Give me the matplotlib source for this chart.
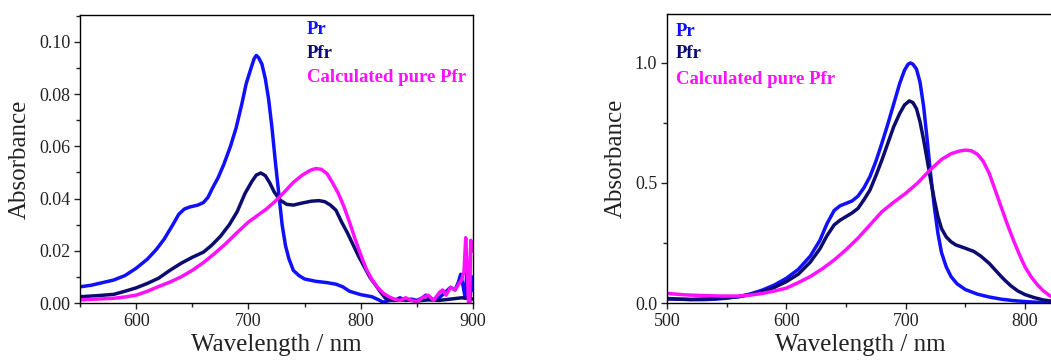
import matplotlib
matplotlib.use("Agg")
import matplotlib.pyplot as plt
from matplotlib.ticker import MultipleLocator, FormatStrFormatter

plt.rcParams['font.family'] = ['Liberation Serif', 'DejaVu Serif']

# ---------------- Left panel data ----------------
L_pr_wl = [550, 560, 570, 580, 590, 600, 610, 618, 625, 632, 638, 643, 648, 655, 660, 664, 668, 673, 678,
           684, 689, 694, 698, 702, 705, 707, 709, 712, 715, 718, 721, 724, 727, 730, 733, 736, 740, 745,
           750, 760, 770, 778, 784, 790, 800, 810, 816, 820, 826, 830, 835, 840, 845, 850, 855, 858, 862,
           866, 870, 875, 880, 884, 887, 889, 891, 893, 895, 897, 899, 900]
L_pr_a = [0.0062, 0.0068, 0.0078, 0.0088, 0.0105, 0.0133, 0.0168, 0.0205, 0.0245, 0.0295, 0.0340, 0.0360,
          0.0368, 0.0375, 0.0385, 0.0405, 0.0440, 0.0480, 0.0530, 0.0600, 0.0670, 0.0760, 0.0840, 0.0895,
          0.0935, 0.0948, 0.0940, 0.0915, 0.0860, 0.0780, 0.0670, 0.0540, 0.0420, 0.0300, 0.0220, 0.0170,
          0.0125, 0.0105, 0.0092, 0.0083, 0.0078, 0.0072, 0.0062, 0.0045, 0.0032, 0.0024, 0.0012, 0.0003,
          0.0010, 0.0010, 0.0020, 0.0010, 0.0015, 0.0010, 0.0020, 0.0030, 0.0020, 0.0010, 0.0020, 0.0040,
          0.0060, 0.0050, 0.0080, 0.0110, 0.0070, 0.0020, 0.0150, 0.0000, 0.0100, 0.0050]

L_pfr_wl = [550, 565, 580, 590, 600, 610, 620, 630, 640, 650, 660, 667, 675, 683, 690, 697, 703, 707, 711,
            715, 719, 723, 728, 734, 740, 748, 756, 763, 768, 773, 778, 783, 788, 793, 798, 803, 808, 813,
            818, 822, 830, 840, 850, 860, 870, 880, 890, 900]
L_pfr_a = [0.0024, 0.0028, 0.0033, 0.0045, 0.0058, 0.0075, 0.0095, 0.0125, 0.0152, 0.0175, 0.0195, 0.0220,
           0.0255, 0.0300, 0.0350, 0.0420, 0.0465, 0.0490, 0.0498, 0.0488, 0.0460, 0.0425, 0.0395, 0.0378,
           0.0375, 0.0383, 0.0390, 0.0392, 0.0388, 0.0375, 0.0355, 0.0310, 0.0270, 0.0225, 0.0180, 0.0140,
           0.0100, 0.0070, 0.0040, 0.0018, 0.0010, 0.0012, 0.0008, 0.0012, 0.0010, 0.0015, 0.0020, 0.0015]

L_calc_wl = [550, 565, 580, 590, 600, 610, 620, 630, 640, 650, 660, 670, 680, 690, 700, 708, 716, 724, 732,
             740, 748, 755, 760, 765, 770, 775, 780, 785, 790, 795, 800, 805, 810, 815, 820, 825, 830, 835,
             840, 845, 850, 855, 860, 865, 870, 873, 876, 880, 884, 887, 890, 892, 893.5, 895, 896, 897,
             898, 899.5]
L_calc_a = [0.0012, 0.0015, 0.0018, 0.0023, 0.0030, 0.0045, 0.0063, 0.0080, 0.0100, 0.0125, 0.0155, 0.0190,
            0.0228, 0.0270, 0.0310, 0.0335, 0.0360, 0.0390, 0.0425, 0.0462, 0.0490, 0.0508, 0.0515, 0.0512,
            0.0495, 0.0460, 0.0420, 0.0370, 0.0310, 0.0245, 0.0185, 0.0130, 0.0090, 0.0060, 0.0038, 0.0024,
            0.0015, 0.0010, 0.0020, 0.0010, 0.0005, 0.0020, 0.0030, 0.0010, 0.0040, 0.0050, 0.0030, 0.0060,
            0.0050, 0.0070, 0.0090, 0.0120, 0.0250, 0.0120, 0.0000, 0.0000, 0.0240, 0.0200]

# ---------------- Right panel data ----------------
R_pr_wl = [500, 510, 520, 530, 540, 550, 560, 570, 580, 590, 600, 610, 620, 628, 634, 640, 645, 650, 655,
           660, 665, 670, 675, 680, 685, 690, 695, 699, 702, 704, 706, 709, 712, 715, 718, 721, 724, 727,
           730, 734, 738, 743, 750, 760, 770, 780, 790, 800, 810, 823]
R_pr_a = [0.019, 0.016, 0.014, 0.014, 0.016, 0.020, 0.027, 0.038, 0.054, 0.075, 0.103, 0.140, 0.195, 0.260,
          0.330, 0.385, 0.405, 0.415, 0.425, 0.445, 0.480, 0.526, 0.590, 0.665, 0.745, 0.830, 0.915, 0.970,
          0.995, 1.000, 0.995, 0.975, 0.920, 0.820, 0.680, 0.530, 0.400, 0.290, 0.210, 0.150, 0.110, 0.080,
          0.056, 0.037, 0.025, 0.016, 0.010, 0.006, 0.003, 0.001]

R_pfr_wl = [500, 520, 540, 560, 570, 580, 590, 600, 610, 620, 628, 634, 640, 645, 650, 655, 660, 665, 670,
            675, 680, 685, 690, 695, 699, 703, 706, 709, 712, 715, 718, 721, 724, 727, 730, 734, 738, 742,
            750, 757, 763, 770, 776, 782, 788, 794, 800, 808, 815, 823]
R_pfr_a = [0.017, 0.015, 0.018, 0.026, 0.035, 0.047, 0.065, 0.089, 0.120, 0.170, 0.225, 0.280, 0.325, 0.345,
           0.360, 0.375, 0.394, 0.430, 0.470, 0.530, 0.595, 0.665, 0.735, 0.790, 0.825, 0.842, 0.835, 0.810,
           0.755, 0.680, 0.596, 0.510, 0.430, 0.360, 0.310, 0.275, 0.255, 0.242, 0.228, 0.215, 0.195, 0.165,
           0.132, 0.100, 0.072, 0.050, 0.035, 0.022, 0.013, 0.007]

R_calc_wl = [500, 515, 530, 545, 560, 570, 580, 590, 600, 610, 620, 630, 640, 650, 660, 670, 680, 690, 700,
             710, 720, 730, 738, 745, 750, 755, 760, 765, 770, 775, 780, 785, 790, 795, 800, 805, 810, 815,
             820, 823]
R_calc_a = [0.040, 0.034, 0.031, 0.029, 0.029, 0.033, 0.040, 0.050, 0.062, 0.085, 0.110, 0.142, 0.179, 0.222,
            0.270, 0.325, 0.380, 0.420, 0.457, 0.500, 0.552, 0.598, 0.622, 0.633, 0.637, 0.634, 0.620, 0.590,
            0.540, 0.470, 0.400, 0.330, 0.265, 0.205, 0.150, 0.110, 0.078, 0.052, 0.033, 0.022]

labels = ["Pr", "Pfr", "Calculated pure Pfr"]
colors = ["#1010ff", "#0c0c70", "#ff10ff"]

fig = plt.figure(figsize=(10.51, 3.61), dpi=100)

axL = fig.add_axes([80/1051, 1-303/361, (473-80)/1051, (303-15)/361])
axR = fig.add_axes([667/1051, 1-303/361, (1051-667)/1051 + 0.002, (303-14)/361])

for wl, a, c in zip([L_pr_wl, L_pfr_wl, L_calc_wl], [L_pr_a, L_pfr_a, L_calc_a], colors):
    axL.plot(wl, a, color=c, lw=2.5, solid_joinstyle='round')
for wl, a, c in zip([R_pr_wl, R_pfr_wl, R_calc_wl], [R_pr_a, R_pfr_a, R_calc_a], colors):
    axR.plot(wl, a, color=c, lw=2.5, solid_joinstyle='round')

axL.set_xlim(550, 900)
axL.set_ylim(0, 0.1103)
axL.xaxis.set_major_locator(MultipleLocator(100))
axL.xaxis.set_minor_locator(MultipleLocator(50))
axL.yaxis.set_major_locator(MultipleLocator(0.02))
axL.yaxis.set_minor_locator(MultipleLocator(0.01))
axL.yaxis.set_major_formatter(FormatStrFormatter('%.2f'))

axR.set_xlim(500, 823.5)
axR.set_ylim(0, 1.204)
axR.xaxis.set_major_locator(MultipleLocator(100))
axR.xaxis.set_minor_locator(MultipleLocator(50))
axR.yaxis.set_major_locator(MultipleLocator(0.5))
axR.yaxis.set_minor_locator(MultipleLocator(0.25))
axR.yaxis.set_major_formatter(FormatStrFormatter('%.1f'))

for ax, ylx, lx, ly in [(axL, 31, 307, [29, 53, 77]), (axR, 627, 676, [31, 54, 79])]:
    ax.tick_params(which='both', direction='out', top=False, right=False, labelsize=13, colors='#222222')
    ax.tick_params(which='major', length=4, width=1, pad=3)
    ax.tick_params(which='minor', length=3, width=1)
    for s in ax.spines.values():
        s.set_linewidth(1.0)
    ax.set_xlabel("Wavelength / nm", fontsize=18, labelpad=3, color='#222222')
    ax.set_ylabel("Absorbance", fontsize=18, color='#222222')
    ax.yaxis.set_label_coords((ylx - ax.get_position().x0 * 1051) / (ax.get_position().width * 1051), 0.5)
    for t, c, y in zip(labels, colors, ly):
        fig.text(lx / 1051, 1 - y / 361, t, color=c, fontsize=13.5, fontweight='bold',
                 ha='left', va='center')

fig.savefig("out.png", dpi=100)
